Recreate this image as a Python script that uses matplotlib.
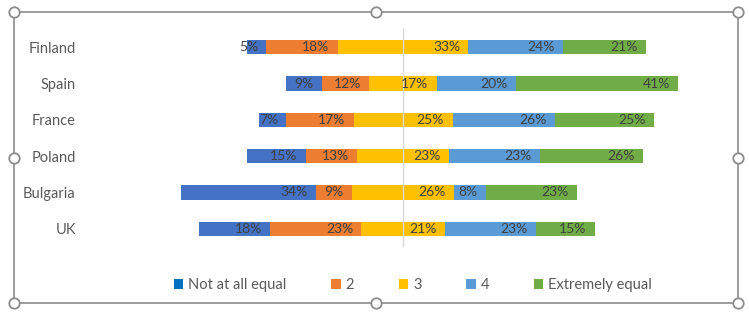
import numpy as np
import matplotlib.pyplot as plt
from matplotlib.patches import Patch

plt.rcParams['font.family'] = ['Lato', 'DejaVu Sans']

countries = ["Finland", "Spain", "France", "Poland", "Bulgaria", "UK"]
levels = ["Not at all equal", "2", "3", "4", "Extremely equal"]
not_equal = [5, 9, 7, 15, 34, 18]
two = [18, 12, 17, 13, 9, 23]
three = [33, 17, 25, 23, 26, 21]
four = [24, 20, 26, 23, 8, 23]
extremely = [21, 41, 25, 26, 23, 15]

bar_colors = ["#4472C4", "#ED7D31", "#FFC000", "#5B9BD5", "#70AD47"]
legend_colors = ["#0070C0", "#ED7D31", "#FFC000", "#5B9BD5", "#70AD47"]
text_color = "#595959"

W, H = 749, 324
fig = plt.figure(figsize=(W / 100, H / 100), dpi=100)
ax = fig.add_axes([80 / W, 77 / H, 650 / W, 218 / H])

series = np.array([not_equal, two, three, four, extremely], dtype=float)
y = np.arange(len(countries))
# diverging layout: centre of the middle category sits on zero
left = -(series[0] + series[1] + series[2] / 2)
for vals, col in zip(series, bar_colors):
    ax.barh(y, vals, left=left, height=0.4, color=col, zorder=2)
    for yi, l, v in zip(y, left, vals):
        ax.annotate(f"{int(v)}%", (l + v, yi), xytext=(-6, 0),
                    textcoords="offset points", ha="right", va="center",
                    fontsize=10, color="#404040", zorder=4)
    left = left + vals

ax.axvline(0, color="#D9D9D9", lw=1, zorder=3)
ax.set_xlim(-81.6, 82.6)
ax.set_ylim(len(countries) - 0.5, -0.5)
ax.set_yticks(y)
ax.set_yticklabels(countries, fontsize=10.5, color=text_color)
ax.tick_params(axis="y", length=0, pad=3)
ax.set_xticks([])
for s in ax.spines.values():
    s.set_visible(False)

handles = [Patch(facecolor=c, edgecolor="none") for c in legend_colors]
fig.legend(handles, levels, loc="center", bbox_to_anchor=(413 / W, 1 - 285 / H),
           ncol=5, frameon=False, fontsize=10.5, labelcolor=text_color,
           handlelength=0.65, handleheight=0.65, handletextpad=0.35,
           columnspacing=3.05)

# chart frame with selection handles
ov = fig.add_axes([0, 0, 1, 1], zorder=-1)
ov.set_xlim(0, W)
ov.set_ylim(H, 0)
ov.axis("off")
x0, x1, y0, y1 = 14, 738, 12, 303
ov.plot([x0, x1, x1, x0, x0], [y0, y0, y1, y1, y0], color="#8C8C8C", lw=1.2)
hx = [x0, (x0 + x1) / 2, x1, x0, x1, x0, (x0 + x1) / 2, x1]
hy = [y0, y0, y0, (y0 + y1) / 2, (y0 + y1) / 2, y1, y1, y1]
ov.plot(hx, hy, "o", ms=7.5, mfc="white", mec="#8C8C8C", mew=1.3, ls="none")

fig.savefig("out.png", dpi=100)
